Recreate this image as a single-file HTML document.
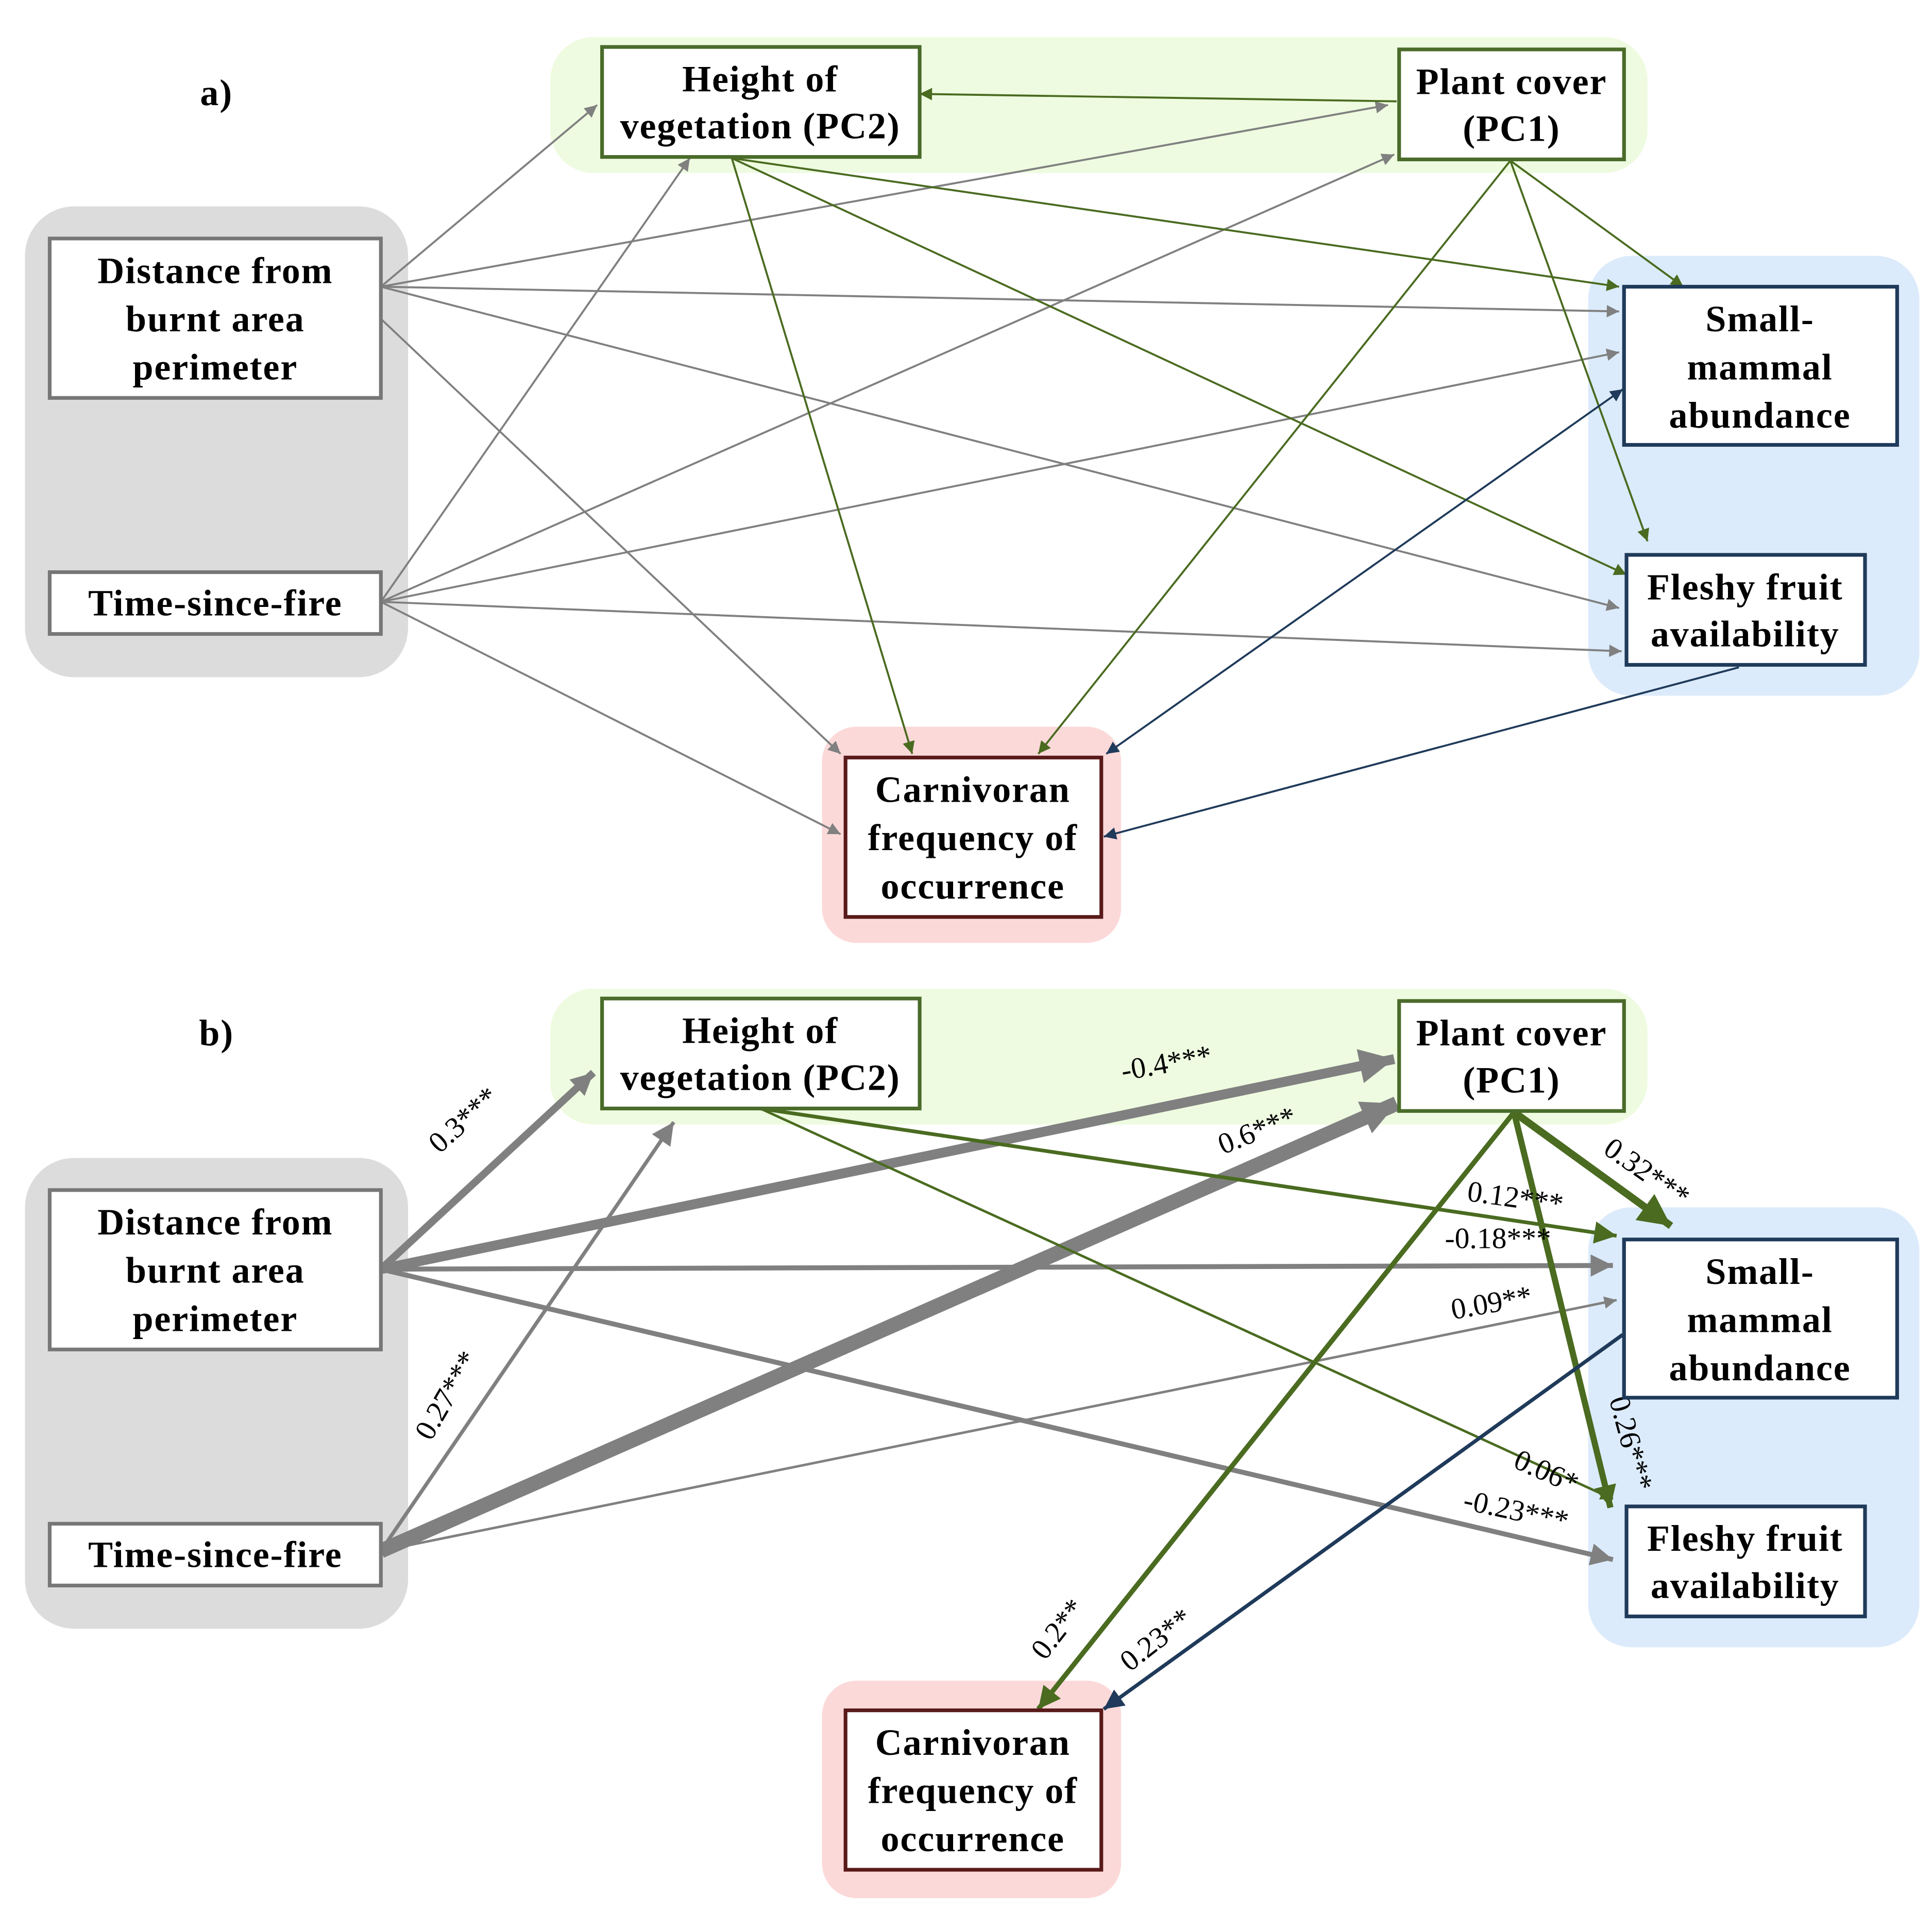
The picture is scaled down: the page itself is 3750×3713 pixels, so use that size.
<!DOCTYPE html>
<html><head><meta charset="utf-8"><style>
html,body{margin:0;padding:0;background:#fff;}
svg{display:block;}
.t{font-family:"Liberation Serif",serif;font-weight:bold;font-size:30px;letter-spacing:0.8px;fill:#000;text-anchor:middle;}
.l{font-family:"Liberation Serif",serif;font-size:24px;fill:#000;text-anchor:middle;}
</style></head><body>
<svg width="3750" height="3713" viewBox="0 0 1563 1548" xmlns="http://www.w3.org/2000/svg">
<defs>
<marker id="g1" viewBox="0 0 10 10" refX="10" refY="5" markerUnits="userSpaceOnUse" markerWidth="13" markerHeight="10" orient="auto"><path d="M0,0L10,5L0,10z" fill="#808080"/></marker>
<marker id="v1" viewBox="0 0 10 10" refX="10" refY="5" markerUnits="userSpaceOnUse" markerWidth="13" markerHeight="10" orient="auto"><path d="M0,0L10,5L0,10z" fill="#4a6b20"/></marker>
<marker id="b1" viewBox="0 0 10 10" refX="10" refY="5" markerUnits="userSpaceOnUse" markerWidth="13" markerHeight="10" orient="auto-start-reverse"><path d="M0,0L10,5L0,10z" fill="#1f3a5a"/></marker>
<marker id="g2" viewBox="0 0 10 10" refX="10" refY="5" markerUnits="userSpaceOnUse" markerWidth="22" markerHeight="18" orient="auto"><path d="M0,0L10,5L0,10z" fill="#808080"/></marker>
<marker id="g3" viewBox="0 0 10 10" refX="10" refY="5" markerUnits="userSpaceOnUse" markerWidth="32" markerHeight="28" orient="auto"><path d="M0,0L10,5L0,10z" fill="#808080"/></marker>
<marker id="v2" viewBox="0 0 10 10" refX="10" refY="5" markerUnits="userSpaceOnUse" markerWidth="22" markerHeight="18" orient="auto"><path d="M0,0L10,5L0,10z" fill="#4a6b20"/></marker>
<marker id="v3" viewBox="0 0 10 10" refX="10" refY="5" markerUnits="userSpaceOnUse" markerWidth="30" markerHeight="26" orient="auto"><path d="M0,0L10,5L0,10z" fill="#4a6b20"/></marker>
<marker id="b2" viewBox="0 0 10 10" refX="10" refY="5" markerUnits="userSpaceOnUse" markerWidth="20" markerHeight="16" orient="auto"><path d="M0,0L10,5L0,10z" fill="#1f3a5a"/></marker>
</defs>

<rect x="445" y="30" width="888" height="110" rx="35" fill="#eefbe0"/>
<rect x="20" y="167" width="310" height="381" rx="40" fill="#dcdcdc"/>
<rect x="1285" y="207" width="268" height="356" rx="35" fill="#dcebfb"/>
<rect x="665" y="588" width="242" height="175" rx="28" fill="#fcd9d9"/>
<text class="t" x="175" y="85">a)</text>

<g stroke-width="1.6" fill="none">
<g stroke="#808080" marker-end="url(#g1)">
<line x1="308" y1="232" x2="483" y2="85"/>
<line x1="308" y1="232" x2="1123" y2="85"/>
<line x1="308" y1="232" x2="1310" y2="252"/>
<line x1="308" y1="232" x2="1310" y2="492"/>
<line x1="308" y1="258" x2="680" y2="610"/>
<line x1="308" y1="487" x2="558" y2="128"/>
<line x1="308" y1="487" x2="1128" y2="125"/>
<line x1="308" y1="487" x2="1310" y2="285"/>
<line x1="308" y1="487" x2="1312" y2="527"/>
<line x1="308" y1="487" x2="680" y2="675"/>
</g>
<g stroke="#4a6b20" marker-end="url(#v1)">
<line x1="1130" y1="82" x2="744" y2="76"/>
<line x1="592" y1="128" x2="738" y2="610"/>
<line x1="592" y1="128" x2="1310" y2="232"/>
<line x1="592" y1="128" x2="1316" y2="465"/>
<line x1="1222" y1="130" x2="840" y2="610"/>
<line x1="1222" y1="130" x2="1362" y2="232"/>
<line x1="1222" y1="130" x2="1333" y2="438"/>
</g>
<g stroke="#1f3a5a">
<line x1="895" y1="610" x2="1313" y2="315" marker-end="url(#b1)" marker-start="url(#b1)"/>
<line x1="1407" y1="540" x2="893" y2="677" marker-end="url(#b1)"/>
</g>
</g>

<g stroke-width="3" fill="#fff">
<rect x="487" y="38" width="257" height="89" stroke="#4a6b2a"/>
<rect x="1132" y="40" width="182" height="89" stroke="#4a6b2a"/>
<rect x="40" y="193" width="268" height="129" stroke="#777"/>
<rect x="40" y="463" width="268" height="50" stroke="#777"/>
<rect x="1314" y="232" width="221" height="128" stroke="#1f3a5a"/>
<rect x="1316" y="449" width="193" height="89" stroke="#1f3a5a"/>
<rect x="684" y="613" width="207" height="129" stroke="#5a1a1a"/>
</g>
<text class="t" x="615" y="74">Height of</text><text class="t" x="615" y="112">vegetation (PC2)</text>
<text class="t" x="1223" y="76">Plant cover</text><text class="t" x="1223" y="114">(PC1)</text>
<text class="t" x="174" y="229">Distance from</text><text class="t" x="174" y="268">burnt area</text><text class="t" x="174" y="307">perimeter</text>
<text class="t" x="174" y="498">Time-since-fire</text>
<text class="t" x="1424" y="268">Small-</text><text class="t" x="1424" y="307">mammal</text><text class="t" x="1424" y="346">abundance</text>
<text class="t" x="1412" y="485">Fleshy fruit</text><text class="t" x="1412" y="523">availability</text>
<text class="t" x="787" y="649">Carnivoran</text><text class="t" x="787" y="688">frequency of</text><text class="t" x="787" y="727">occurrence</text>

<rect x="445" y="800" width="888" height="110" rx="35" fill="#eefbe0"/>
<rect x="20" y="937" width="310" height="381" rx="40" fill="#dcdcdc"/>
<rect x="1285" y="977" width="268" height="356" rx="35" fill="#dcebfb"/>
<rect x="665" y="1360" width="242" height="176" rx="28" fill="#fcd9d9"/>
<text class="t" x="175" y="846">b)</text>

<g fill="none">
<line x1="308" y1="1027" x2="480" y2="868" stroke="#808080" stroke-width="6" marker-end="url(#g2)"/>
<line x1="308" y1="1027" x2="1128" y2="857" stroke="#808080" stroke-width="8" marker-end="url(#g3)"/>
<line x1="308" y1="1027" x2="1305" y2="1024" stroke="#808080" stroke-width="4" marker-end="url(#g2)"/>
<line x1="308" y1="1027" x2="1305" y2="1262" stroke="#808080" stroke-width="4" marker-end="url(#g2)"/>
<line x1="308" y1="1255" x2="545" y2="908" stroke="#808080" stroke-width="3" marker-end="url(#g2)"/>
<line x1="308" y1="1255" x2="1130" y2="893" stroke="#808080" stroke-width="12" marker-end="url(#g3)"/>
<line x1="308" y1="1255" x2="1308" y2="1052" stroke="#808080" stroke-width="2" marker-end="url(#g1)"/>
<line x1="615" y1="897" x2="1308" y2="1000" stroke="#4a6b20" stroke-width="3" marker-end="url(#v2)"/>
<line x1="615" y1="897" x2="1305" y2="1213" stroke="#4a6b20" stroke-width="2" marker-end="url(#v1)"/>
<line x1="1225" y1="900" x2="1352" y2="992" stroke="#4a6b20" stroke-width="6" marker-end="url(#v3)"/>
<line x1="1225" y1="900" x2="1303" y2="1220" stroke="#4a6b20" stroke-width="5" marker-end="url(#v2)"/>
<line x1="1225" y1="900" x2="840" y2="1383" stroke="#4a6b20" stroke-width="4" marker-end="url(#v2)"/>
<line x1="1313" y1="1080" x2="893" y2="1383" stroke="#1f3a5a" stroke-width="3" marker-end="url(#b2)"/>
</g>

<text class="l" transform="translate(380,912) rotate(-42)">0.3***</text>
<text class="l" transform="translate(945,868) rotate(-10)">-0.4***</text>
<text class="l" transform="translate(1020,922) rotate(-22)">0.6***</text>
<text class="l" transform="translate(1225,977) rotate(8)">0.12***</text>
<text class="l" transform="translate(1212,1010)">-0.18***</text>
<text class="l" transform="translate(1208,1062) rotate(-10)">0.09**</text>
<text class="l" transform="translate(1328,955) rotate(35)">0.32***</text>
<text class="l" transform="translate(1312,1170) rotate(75)">0.26***</text>
<text class="l" transform="translate(1248,1198) rotate(24)">0.06*</text>
<text class="l" transform="translate(1225,1230) rotate(12)">-0.23***</text>
<text class="l" transform="translate(368,1133) rotate(-60)">0.27***</text>
<text class="l" transform="translate(862,1323) rotate(-52)">0.2**</text>
<text class="l" transform="translate(940,1333) rotate(-38)">0.23**</text>

<g stroke-width="3" fill="#fff">
<rect x="487" y="808" width="257" height="89" stroke="#4a6b2a"/>
<rect x="1132" y="810" width="182" height="89" stroke="#4a6b2a"/>
<rect x="40" y="963" width="268" height="129" stroke="#777"/>
<rect x="40" y="1233" width="268" height="50" stroke="#777"/>
<rect x="1314" y="1003" width="221" height="128" stroke="#1f3a5a"/>
<rect x="1316" y="1219" width="193" height="89" stroke="#1f3a5a"/>
<rect x="684" y="1384" width="207" height="129" stroke="#5a1a1a"/>
</g>
<text class="t" x="615" y="844">Height of</text><text class="t" x="615" y="882">vegetation (PC2)</text>
<text class="t" x="1223" y="846">Plant cover</text><text class="t" x="1223" y="884">(PC1)</text>
<text class="t" x="174" y="999">Distance from</text><text class="t" x="174" y="1038">burnt area</text><text class="t" x="174" y="1077">perimeter</text>
<text class="t" x="174" y="1268">Time-since-fire</text>
<text class="t" x="1424" y="1039">Small-</text><text class="t" x="1424" y="1078">mammal</text><text class="t" x="1424" y="1117">abundance</text>
<text class="t" x="1412" y="1255">Fleshy fruit</text><text class="t" x="1412" y="1293">availability</text>
<text class="t" x="787" y="1420">Carnivoran</text><text class="t" x="787" y="1459">frequency of</text><text class="t" x="787" y="1498">occurrence</text>
</svg>
</body></html>
